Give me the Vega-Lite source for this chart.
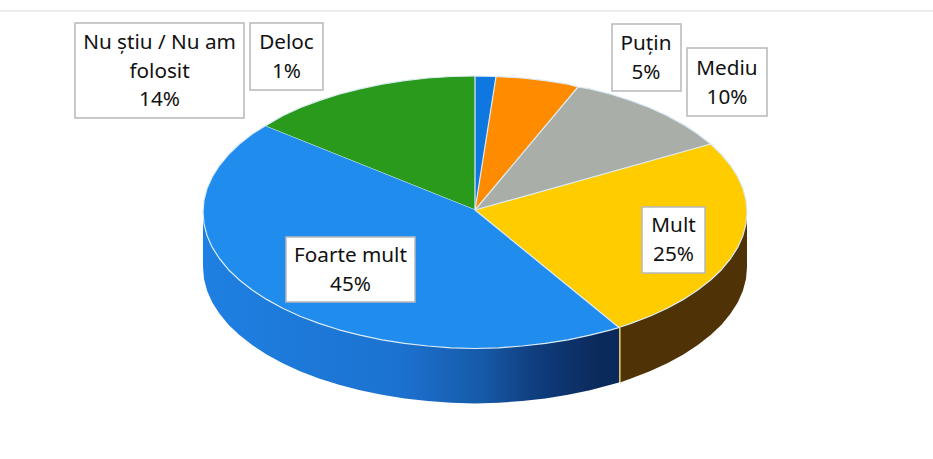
{"$schema":"https://vega.github.io/schema/vega-lite/v6.json","width":933,"height":459,"padding":0,"autosize":{"type":"none"},"background":"#ffffff","config":{"view":{"stroke":null}},
"datasets":{
"top":[
{"slice":"Nu stiu","i":0,"x":475,"y":210},{"slice":"Nu stiu","i":1,"x":265,"y":126},{"slice":"Nu stiu","i":2,"x":282.7,"y":115.8},{"slice":"Nu stiu","i":3,"x":300,"y":107.8},{"slice":"Nu stiu","i":4,"x":319,"y":100.6},{"slice":"Nu stiu","i":5,"x":339,"y":94.2},{"slice":"Nu stiu","i":6,"x":360,"y":88.8},{"slice":"Nu stiu","i":7,"x":382,"y":84.2},{"slice":"Nu stiu","i":8,"x":404.6,"y":80.6},{"slice":"Nu stiu","i":9,"x":427.8,"y":78},{"slice":"Nu stiu","i":10,"x":451.3,"y":76.5},{"slice":"Nu stiu","i":11,"x":475,"y":76},
{"slice":"Deloc","i":0,"x":475,"y":210},{"slice":"Deloc","i":1,"x":475,"y":76},{"slice":"Deloc","i":2,"x":496,"y":76.5},
{"slice":"Putin","i":0,"x":475,"y":210},{"slice":"Putin","i":1,"x":496,"y":76.5},{"slice":"Putin","i":2,"x":522.2,"y":78},{"slice":"Putin","i":3,"x":545.4,"y":80.6},{"slice":"Putin","i":4,"x":568,"y":84.2},{"slice":"Putin","i":5,"x":578,"y":87},
{"slice":"Mediu","i":0,"x":475,"y":210},{"slice":"Mediu","i":1,"x":578,"y":87},{"slice":"Mediu","i":2,"x":590,"y":88.8},{"slice":"Mediu","i":3,"x":611,"y":94.2},{"slice":"Mediu","i":4,"x":631,"y":100.6},{"slice":"Mediu","i":5,"x":649.8,"y":107.8},{"slice":"Mediu","i":6,"x":667.3,"y":115.8},{"slice":"Mediu","i":7,"x":683.4,"y":124.6},{"slice":"Mediu","i":8,"x":697.8,"y":134},{"slice":"Mediu","i":9,"x":710.6,"y":144},
{"slice":"Mult","i":0,"x":475,"y":210},{"slice":"Mult","i":1,"x":710.6,"y":144},{"slice":"Mult","i":2,"x":721.5,"y":154.5},{"slice":"Mult","i":3,"x":730.6,"y":165.5},{"slice":"Mult","i":4,"x":737.7,"y":176.8},{"slice":"Mult","i":5,"x":742.9,"y":188.3},{"slice":"Mult","i":6,"x":746,"y":200.2},{"slice":"Mult","i":7,"x":747,"y":212},{"slice":"Mult","i":8,"x":746,"y":223.9},{"slice":"Mult","i":9,"x":742.9,"y":235.7},{"slice":"Mult","i":10,"x":737.7,"y":247.4},{"slice":"Mult","i":11,"x":730.6,"y":258.5},{"slice":"Mult","i":12,"x":721.5,"y":269.7},{"slice":"Mult","i":13,"x":710.6,"y":280},{"slice":"Mult","i":14,"x":697.8,"y":290},{"slice":"Mult","i":15,"x":683.4,"y":299.4},{"slice":"Mult","i":16,"x":667.3,"y":308.2},{"slice":"Mult","i":17,"x":649.8,"y":316.2},{"slice":"Mult","i":18,"x":631,"y":323.4},{"slice":"Mult","i":19,"x":619,"y":327.5},
{"slice":"Foarte mult","i":0,"x":475,"y":210},{"slice":"Foarte mult","i":1,"x":619,"y":327.5},{"slice":"Foarte mult","i":2,"x":611,"y":329.8},{"slice":"Foarte mult","i":3,"x":590,"y":335.2},{"slice":"Foarte mult","i":4,"x":568,"y":339.8},{"slice":"Foarte mult","i":5,"x":545.4,"y":343.4},{"slice":"Foarte mult","i":6,"x":522.2,"y":346},{"slice":"Foarte mult","i":7,"x":498.7,"y":347.8},{"slice":"Foarte mult","i":8,"x":475,"y":348.5},{"slice":"Foarte mult","i":9,"x":451.3,"y":347.8},{"slice":"Foarte mult","i":10,"x":427.8,"y":346},{"slice":"Foarte mult","i":11,"x":404.6,"y":343.4},{"slice":"Foarte mult","i":12,"x":382,"y":339.8},{"slice":"Foarte mult","i":13,"x":360,"y":335.2},{"slice":"Foarte mult","i":14,"x":339,"y":329.8},{"slice":"Foarte mult","i":15,"x":319,"y":323.4},{"slice":"Foarte mult","i":16,"x":300,"y":316.2},{"slice":"Foarte mult","i":17,"x":282.7,"y":308.2},{"slice":"Foarte mult","i":18,"x":266.6,"y":299.4},{"slice":"Foarte mult","i":19,"x":252.2,"y":290},{"slice":"Foarte mult","i":20,"x":239.4,"y":280},{"slice":"Foarte mult","i":21,"x":228.5,"y":269.7},{"slice":"Foarte mult","i":22,"x":219.4,"y":258.5},{"slice":"Foarte mult","i":23,"x":212.3,"y":247.4},{"slice":"Foarte mult","i":24,"x":207.1,"y":235.7},{"slice":"Foarte mult","i":25,"x":204,"y":223.9},{"slice":"Foarte mult","i":26,"x":203,"y":212},{"slice":"Foarte mult","i":27,"x":204,"y":200.2},{"slice":"Foarte mult","i":28,"x":207.1,"y":188.3},{"slice":"Foarte mult","i":29,"x":212.3,"y":176.8},{"slice":"Foarte mult","i":30,"x":219.4,"y":165.5},{"slice":"Foarte mult","i":31,"x":228.5,"y":154.5},{"slice":"Foarte mult","i":32,"x":239.4,"y":144},{"slice":"Foarte mult","i":33,"x":252.2,"y":134},{"slice":"Foarte mult","i":34,"x":265,"y":126}
],
"wallBlue":[
{"i":0,"x":619,"y":328},{"i":1,"x":568,"y":338},{"i":2,"x":475,"y":346},{"i":3,"x":382,"y":338},{"i":4,"x":300,"y":314},{"i":5,"x":239.4,"y":278},{"i":6,"x":207.1,"y":234},{"i":7,"x":203,"y":212},{"i":8,"x":203,"y":267},{"i":9,"x":204,"y":278.9},{"i":10,"x":207.1,"y":290.7},{"i":11,"x":212.3,"y":302.4},{"i":12,"x":219.4,"y":313.5},{"i":13,"x":228.5,"y":324.7},{"i":14,"x":239.4,"y":335},{"i":15,"x":252.2,"y":345},{"i":16,"x":266.6,"y":354.4},{"i":17,"x":282.7,"y":363.2},{"i":18,"x":300,"y":371.2},{"i":19,"x":319,"y":378.4},{"i":20,"x":339,"y":384.8},{"i":21,"x":360,"y":390.2},{"i":22,"x":382,"y":394.8},{"i":23,"x":404.6,"y":398.4},{"i":24,"x":427.8,"y":401},{"i":25,"x":451.3,"y":402.8},{"i":26,"x":475,"y":403.5},{"i":27,"x":498.7,"y":402.8},{"i":28,"x":522.2,"y":401},{"i":29,"x":545.4,"y":398.4},{"i":30,"x":568,"y":394.8},{"i":31,"x":590,"y":390.2},{"i":32,"x":619,"y":382.5}
],
"wallBrown":[
{"i":0,"x":747,"y":212},{"i":1,"x":710,"y":278},{"i":2,"x":650,"y":314},{"i":3,"x":620,"y":326},{"i":4,"x":620,"y":382.5},{"i":5,"x":631,"y":378.4},{"i":6,"x":649.8,"y":371.2},{"i":7,"x":667.3,"y":363.2},{"i":8,"x":683.4,"y":354.4},{"i":9,"x":697.8,"y":345},{"i":10,"x":710.6,"y":335},{"i":11,"x":721.5,"y":324.7},{"i":12,"x":730.6,"y":313.5},{"i":13,"x":737.7,"y":302.4},{"i":14,"x":742.9,"y":290.7},{"i":15,"x":746,"y":278.9},{"i":16,"x":747,"y":267}
],
"labels":[
{"name":"Nu știu / Nu am\nfolosit\n14%","value":14,"x0":75,"x1":244,"y0":23,"y1":118,"cx":159.5,"cy":43},
{"name":"Deloc\n1%","value":1,"x0":250,"x1":323,"y0":23,"y1":90,"cx":286.5,"cy":43},
{"name":"Puțin\n5%","value":5,"x0":612,"x1":681,"y0":24,"y1":91,"cx":646,"cy":44},
{"name":"Mediu\n10%","value":10,"x0":687,"x1":767,"y0":48,"y1":116,"cx":727,"cy":69},
{"name":"Mult\n25%","value":25,"x0":642,"x1":705,"y0":207,"y1":273,"cx":673.5,"cy":226},
{"name":"Foarte mult\n45%","value":45,"x0":286,"x1":415,"y0":237,"y1":302,"cx":350.5,"cy":256}
],
"rule":[{"x0":0,"x1":933,"y":11}],
"seam":[{"x":620,"y0":328,"y1":382}]
},
"layer":[
{"data":{"name":"rule"},"mark":{"type":"rule","stroke":"#EBEBEB","strokeWidth":2},"encoding":{"x":{"field":"x0","type":"quantitative","scale":{"domain":[0,933]},"axis":null},"x2":{"field":"x1"},"y":{"field":"y","type":"quantitative","scale":{"domain":[459,0]},"axis":null}}},
{"data":{"name":"wallBlue"},"mark":{"type":"line","fill":{"gradient":"linear","x1":0,"y1":0,"x2":1,"y2":0,"stops":[{"offset":0,"color":"#1E80E2"},{"offset":0.47,"color":"#1C72D0"},{"offset":0.67,"color":"#165AA8"},{"offset":0.8,"color":"#0F3D7E"},{"offset":0.95,"color":"#0B2A5C"},{"offset":1,"color":"#0B2A5C"}]},"stroke":"#1E7FDD","strokeWidth":0},"encoding":{"x":{"field":"x","type":"quantitative","scale":{"domain":[0,933]},"axis":null},"y":{"field":"y","type":"quantitative","scale":{"domain":[459,0]},"axis":null},"order":{"field":"i","type":"quantitative"}}},
{"data":{"name":"wallBrown"},"mark":{"type":"line","fill":"#4F3206","stroke":"#4F3206","strokeWidth":0},"encoding":{"x":{"field":"x","type":"quantitative","scale":{"domain":[0,933]},"axis":null},"y":{"field":"y","type":"quantitative","scale":{"domain":[459,0]},"axis":null},"order":{"field":"i","type":"quantitative"}}},
{"data":{"name":"seam"},"mark":{"type":"rule","stroke":"#C9B04A","strokeWidth":1.5},"encoding":{"x":{"field":"x","type":"quantitative","scale":{"domain":[0,933]},"axis":null},"y":{"field":"y0","type":"quantitative","scale":{"domain":[459,0]},"axis":null},"y2":{"field":"y1"}}},
{"data":{"name":"top"},"mark":{"type":"line","stroke":"#DCECF6","strokeWidth":1.2,"strokeJoin":"round"},"encoding":{"x":{"field":"x","type":"quantitative","scale":{"domain":[0,933]},"axis":null},"y":{"field":"y","type":"quantitative","scale":{"domain":[459,0]},"axis":null},"detail":{"field":"slice"},"order":{"field":"i","type":"quantitative"},"fill":{"field":"slice","type":"nominal","legend":null,"scale":{"domain":["Nu stiu","Deloc","Putin","Mediu","Mult","Foarte mult"],"range":["#2A9A1C","#0F77E0","#FF8C00","#A9AEA9","#FFCC00","#1F8CEE"]}}}},
{"data":{"name":"labels"},"mark":{"type":"rect","fill":"#ffffff","stroke":"#B8B8BC","strokeWidth":1.5},"encoding":{"x":{"field":"x0","type":"quantitative","scale":{"domain":[0,933]},"axis":null},"x2":{"field":"x1"},"y":{"field":"y0","type":"quantitative","scale":{"domain":[459,0]},"axis":null},"y2":{"field":"y1"}}},
{"data":{"name":"labels"},"mark":{"type":"text","font":"Noto Sans","fontSize":20.7,"fill":"#111111","lineBreak":"\n","lineHeight":28.5,"align":"center","baseline":"middle"},"encoding":{"x":{"field":"cx","type":"quantitative","scale":{"domain":[0,933]},"axis":null},"y":{"field":"cy","type":"quantitative","scale":{"domain":[459,0]},"axis":null},"text":{"field":"name"}}}
]}
